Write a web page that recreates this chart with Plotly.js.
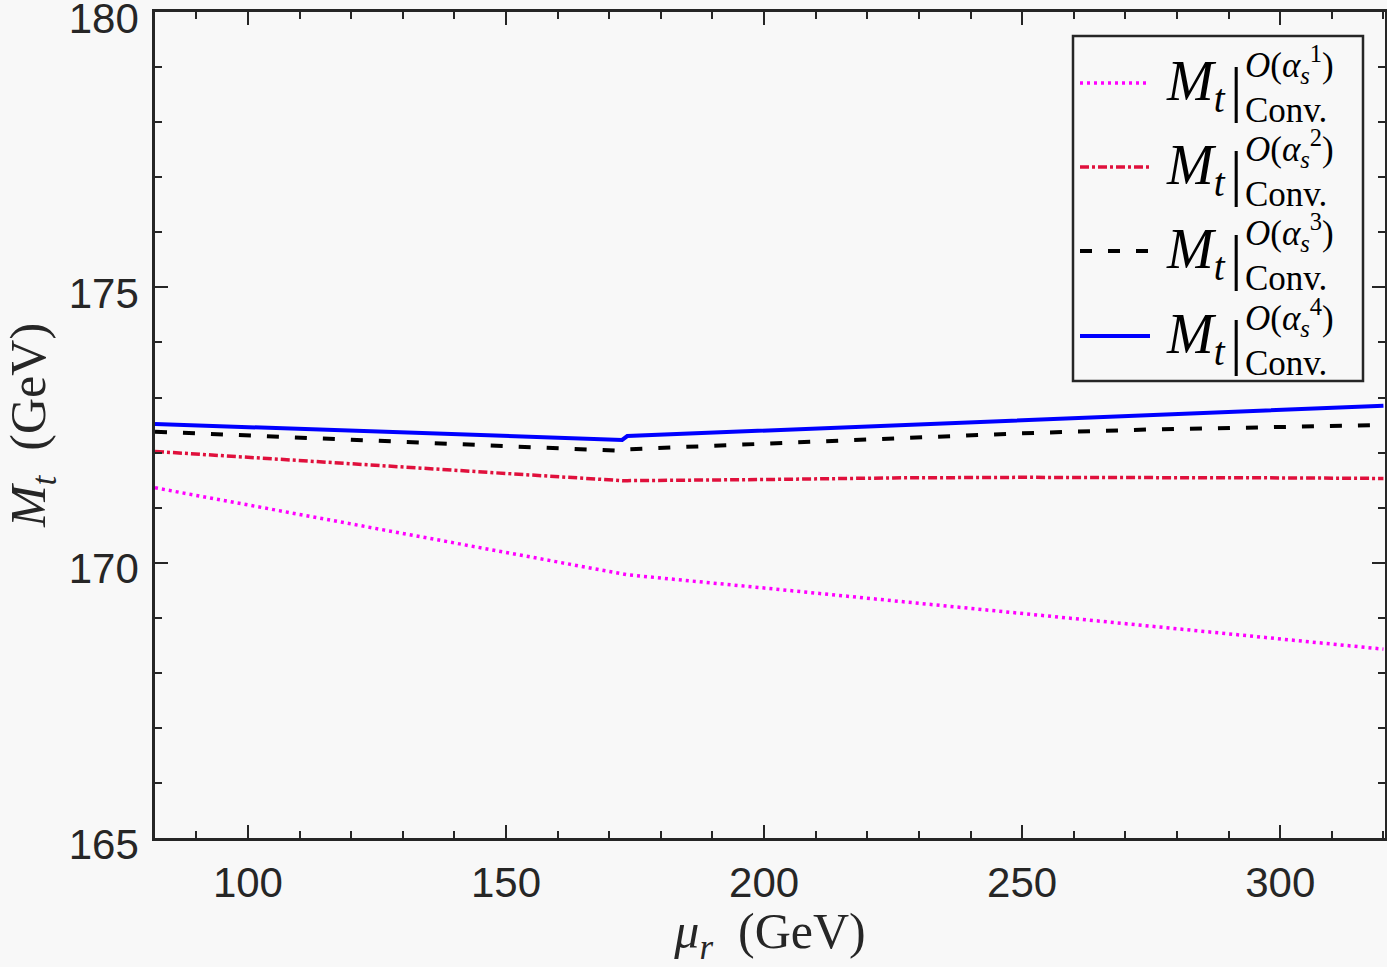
<!DOCTYPE html>
<html>
<head>
<meta charset="utf-8">
<script src="https://cdn.plot.ly/plotly-3.0.1.min.js"></script>
<style>
  body { margin: 0; background: #f8f8f8; }
  #chart { width: 1387px; height: 967px; }
</style>
</head>
<body>
<div id="chart"></div>
<script>
// renormalization scale mu_r (GeV)
var muR = [82, 100, 125, 150, 172.5, 173.5, 200, 225, 250, 275, 300, 320]

// M_t (GeV) at each order
var mtOrder1 = [171.36, 171.05, 170.61, 170.18, 169.79, 169.78, 169.54, 169.31, 169.08, 168.85, 168.62, 168.43]
var mtOrder2 = [172.02, 171.91, 171.76, 171.62, 171.49, 171.49, 171.51, 171.54, 171.55, 171.55, 171.54, 171.53]
var mtOrder3 = [172.38, 172.31, 172.21, 172.12, 172.03, 172.06, 172.16, 172.26, 172.35, 172.42, 172.47, 172.50]
var mtOrder4 = [172.52, 172.46, 172.38, 172.30, 172.23, 172.30, 172.40, 172.50, 172.60, 172.69, 172.78, 172.85]

var orders = ['1', '2', '3', '4']
var colours = ['#ff00ff', '#e0103c', '#000000', '#0000ff']
var dashes = ['3px,4px', '9px,3px,3px,3px', '12px,16px', 'solid']
var widths = [3.5, 3.5, 4, 4]

var serif = 'Liberation Serif, Times New Roman, serif'
var sans = 'Liberation Sans, Arial, sans-serif'
var axisColour = '#262626'

function makeTraces() {
  var ys = [mtOrder1, mtOrder2, mtOrder3, mtOrder4]
  var data = []
  for (i = 0; i < ys.length; i++) {
    data.push({
      x: muR,
      y: ys[i],
      type: 'scatter',
      mode: 'lines',
      name: 'O(as^' + orders[i] + ')',
      showlegend: false,
      line: { color: colours[i], dash: dashes[i], width: widths[i] }
    })
  }
  return data
}

// hand-made legend box, since Plotly cannot stack sup/sub text
function legendParts() {
  var px = function (p) { return (p - 155) / 1230 }
  var py = function (p) { return (838 - p) / 826 }
  var shapes = [{
    type: 'rect', xref: 'paper', yref: 'paper',
    x0: px(1073), x1: px(1363), y0: py(381), y1: py(36),
    line: { color: axisColour, width: 2.5 }, fillcolor: '#f8f8f8'
  }]
  var annotations = []
  var rows = [83, 167, 251, 336]
  for (i = 0; i < orders.length; i++) {
    var yRow = rows[i]
    shapes.push({
      type: 'line', xref: 'paper', yref: 'paper',
      x0: px(1080), x1: px(1150), y0: py(yRow), y1: py(yRow),
      line: { color: colours[i], dash: dashes[i], width: widths[i] }
    })
    annotations.push({
      xref: 'paper', yref: 'paper', x: px(1228), y: py(yRow + 2),
      xanchor: 'right', yanchor: 'middle', showarrow: false,
      text: '<i>M</i><sub><i>t</i></sub>',
      font: { family: serif, size: 56, color: '#000' }
    })
    annotations.push({
      xref: 'paper', yref: 'paper', x: px(1236), y: py(yRow + 6),
      xanchor: 'center', yanchor: 'middle', showarrow: false,
      text: '|',
      font: { family: serif, size: 62, color: '#000' }
    })
    annotations.push({
      xref: 'paper', yref: 'paper', x: px(1243), y: py(yRow + 2),
      xanchor: 'left', yanchor: 'middle', align: 'left', showarrow: false,
      text: '<i>O</i>(<i>α</i><sub><i>s</i></sub><sup>' + orders[i] + '</sup>)<br>Conv.',
      font: { family: serif, size: 35, color: '#000' }
    })
  }
  return { shapes: shapes, annotations: annotations }
}

function getLayout() {
  var leg = legendParts()
  return {
    width: 1387,
    height: 967,
    paper_bgcolor: '#f8f8f8',
    plot_bgcolor: '#f8f8f8',
    showlegend: false,
    margin: { l: 155, r: 2, t: 12, b: 129 },
    xaxis: {
      range: [82, 320.3],
      tickvals: [100, 150, 200, 250, 300],
      ticks: 'inside', ticklen: 13, tickwidth: 2, tickcolor: axisColour,
      minor: { dtick: 10, ticks: 'inside', ticklen: 7, tickwidth: 1.5, tickcolor: axisColour, showgrid: false },
      showline: true, linewidth: 2.5, linecolor: axisColour, mirror: 'ticks',
      showgrid: false, zeroline: false,
      ticklabelstandoff: 6,
      tickfont: { family: sans, size: 42, color: axisColour },
      title: {
        text: '<i>μ</i><sub><i>r</i></sub>  (GeV)',
        font: { family: serif, size: 50, color: axisColour },
        standoff: 17
      }
    },
    yaxis: {
      range: [165, 180.001],
      tickvals: [165, 170, 175, 180],
      ticks: 'inside', ticklen: 13, tickwidth: 2, tickcolor: axisColour,
      minor: { dtick: 1, ticks: 'inside', ticklen: 7, tickwidth: 1.5, tickcolor: axisColour, showgrid: false },
      showline: true, linewidth: 2.5, linecolor: axisColour, mirror: 'ticks',
      showgrid: false, zeroline: false,
      ticklabelstandoff: 5,
      ticklabelshift: 6,
      ticklabeloverflow: 'allow',
      tickfont: { family: sans, size: 42, color: axisColour },
      title: {
        text: '<i>M</i><sub><i>t</i></sub>  (GeV)',
        font: { family: serif, size: 50, color: axisColour },
        standoff: 14
      }
    },
    shapes: leg.shapes,
    annotations: leg.annotations
  }
}

Plotly.newPlot('chart', makeTraces(), getLayout(), { displayModeBar: false })
</script>
</body>
</html>
